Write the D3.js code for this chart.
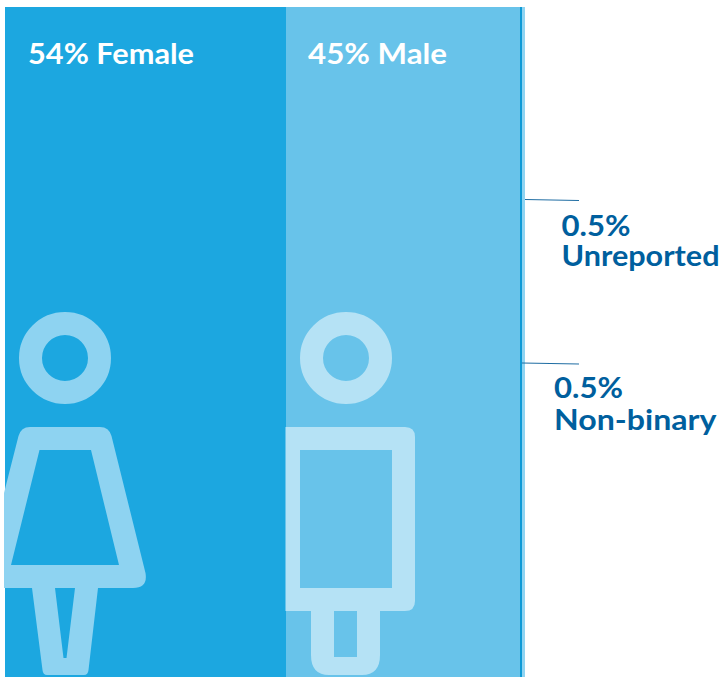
<!DOCTYPE html>
<html>
<head>
<meta charset="utf-8">
<script src="https://cdn.jsdelivr.net/npm/d3@7"></script>
<style>
html,body{margin:0;padding:0;background:#fff;overflow:hidden}
svg{display:block}
text{font-family:Lato,"Open Sans",sans-serif;font-weight:700}
</style>
</head>
<body>
<div id="chart"></div>
<script>
const categories = ["Female", "Male", "Non-binary", "Unreported"];
const shares = [54, 45, 0.5, 0.5];
const shareLabels = ["54%", "45%", "0.5%", "0.5%"];
const barColors = ["#1ca7e0", "#68c3ea", "#0f9ad6", "#8fd4f2"];

const W = 722, H = 677;
const svg = d3.select("#chart").append("svg").attr("width", W).attr("height", H);

const x = d3.scaleLinear().domain([0, 100]).range([5, 525]);
const barTop = 7;
const stacked = d3.cumsum(shares);
const rows = categories.map((c, i) => ({
  c, v: shares[i], label: shareLabels[i], color: barColors[i],
  x0: i ? stacked[i - 1] : 0, x1: stacked[i]
}));

svg.append("g").attr("shape-rendering", "crispEdges").selectAll("rect").data(rows).join("rect")
  .attr("x", d => Math.round(x(d.x0)))
  .attr("y", barTop)
  .attr("width", d => Math.round(x(d.x1)) - Math.round(x(d.x0)))
  .attr("height", H - barTop)
  .attr("fill", d => d.color);

// Icons
const defs = svg.append("defs");
defs.append("clipPath").attr("id", "iconClip").append("rect")
  .attr("x", 4).attr("y", 0).attr("width", W).attr("height", 675);

const icons = svg.append("g").attr("clip-path", "url(#iconClip)");

function ring(cx, color) {
  icons.append("circle").attr("cx", cx).attr("cy", 358).attr("r", 34.5)
    .attr("fill", "none").attr("stroke", color).attr("stroke-width", 23);
}

const femalePath =
  "M30,427 L100,427 Q109,427 111.500,436 L145.500,573 Q148,588 133,588 " +
  "L98,588 L88.500,670 Q88,675 84,675 L47,675 Q43,675 42.500,670 L32,588 " +
  "L4,588 L4,493 L18.500,436 Q21,427 30,427 Z " +
  "M39.500,450 L11,565 L119,565 L91,450 Z " +
  "M55,588 L63.500,658 L66.500,658 L75,588 Z";

const malePath =
  "M285.500,427 L405,427 Q415,427 415,437 L415,601 Q415,611 405,611 " +
  "L380,611 L380,655 Q380,675 362,675 L329,675 Q311,675 311,655 L311,611 L285.500,611 Z " +
  "M300,450 L300,588 L392,588 L392,450 Z " +
  "M334,611 L334,657 L357,657 L357,611 Z";

ring(65, "#8ed3f1");
icons.append("path").attr("d", femalePath).attr("fill", "#8ed3f1").attr("fill-rule", "evenodd");
ring(346, "#b5e2f5");
icons.append("path").attr("d", malePath).attr("fill", "#b5e2f5").attr("fill-rule", "evenodd");

// Top labels
const topLabels = svg.append("g");
topLabels.append("text").attr("x", 28).attr("y", 64)
  .attr("font-size", 28).attr("fill", "#fff")
  .attr("textLength", 166).attr("lengthAdjust", "spacingAndGlyphs")
  .text(rows[0].label + " " + rows[0].c);
topLabels.append("text").attr("x", 308).attr("y", 64)
  .attr("font-size", 28).attr("fill", "#fff")
  .attr("textLength", 139).attr("lengthAdjust", "spacingAndGlyphs")
  .text(rows[1].label + " " + rows[1].c);

// Small-share callouts
const dark = "#005f9e";
const callouts = svg.append("g");
function callout(d, lx0, ly0, ly1, tx, y1, y2, w1, w2) {
  callouts.append("line").attr("x1", lx0).attr("y1", ly0).attr("x2", 579).attr("y2", ly1)
    .attr("stroke", "#1f6da3").attr("stroke-width", 1.1);
  callouts.append("text").attr("x", tx).attr("y", y1).attr("font-size", 28).attr("fill", dark)
    .attr("textLength", w1).attr("lengthAdjust", "spacingAndGlyphs").text(d.label);
  callouts.append("text").attr("x", tx).attr("y", y2).attr("font-size", 28).attr("fill", dark)
    .attr("textLength", w2).attr("lengthAdjust", "spacingAndGlyphs").text(d.c);
}
callout(rows[3], x(100), 199.5, 200.5, 561.5, 236, 266, 69, 158);
callout(rows[2], x(stacked[2]) - 0.5, 363, 364, 554, 398, 430, 69, 162.5);
</script>
</body>
</html>
